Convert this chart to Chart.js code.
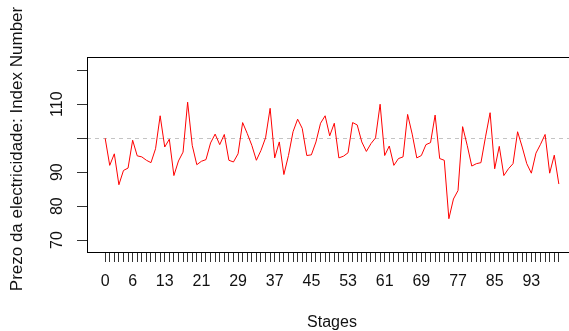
<!DOCTYPE html>
<html>
<head>
<meta charset="utf-8">
<script src="https://cdn.jsdelivr.net/npm/chart.js@4.4.1/dist/chart.umd.min.js"></script>
<style>
    html, body { margin: 0; padding: 0; background: #fff; overflow: hidden; }
    #wrap { width: 569px; height: 331px; overflow: hidden; }
</style>
</head>
<body>
<div id="wrap"><canvas id="grafico" width="580" height="331"></canvas></div>
<script>
// valores (índice do preço por etapa)
const precos = [
    100.0, 92.0, 95.4, 86.3, 90.5, 91.2, 99.4, 94.8, 94.5, 93.5,
    92.8, 96.9, 106.6, 97.4, 99.7, 89.0, 93.3, 95.9, 110.6, 97.9,
    92.2, 93.2, 93.7, 98.6, 101.2, 98.1, 101.1, 93.5, 93.0, 95.4,
    104.6, 101.4, 97.9, 93.5, 96.4, 100.1, 108.8, 94.2, 98.9, 89.3,
    94.9, 101.9, 105.6, 102.9, 94.9, 95.1, 98.9, 104.4, 106.6, 100.7,
    104.4, 94.2, 94.7, 95.7, 104.6, 103.9, 98.9, 96.1, 98.4, 100.1,
    110.0, 94.9, 97.7, 92.0, 94.0, 94.5, 107.0, 101.2, 94.2, 94.9,
    98.1, 98.7, 106.8, 94.0, 93.5, 76.3, 82.1, 84.6, 103.4, 97.9,
    91.8, 92.5, 92.8, 100.4, 107.5, 91.0, 97.6, 89.0, 91.0, 92.5,
    101.9, 97.4, 92.5, 89.7, 95.6, 98.2, 101.1, 89.7, 95.0, 86.5
];
const etapas = precos.map((p, i) => i);
const etiquetasX = [0, 6, 13, 21, 29, 37, 45, 53, 61, 69, 77, 85, 93];
const ticksY = [70, 80, 90, 100, 110, 120];
const etiquetasY = [70, 80, 90, 110];
const linhaRef = 100;
const tituloY = 'Prezo da electricidade: Index Number';

const fonte = 'Arial, "Liberation Sans", sans-serif';

// caixa do gráfico, linha tracejada, etiquetas verticais e título do eixo y
const extras = {
    id: 'extras',
    beforeDatasetsDraw(chart) {
        const { ctx, chartArea: a, scales } = chart;
        const y = Math.round(scales.y.getPixelForValue(linhaRef)) + 0.5;
        ctx.save();
        ctx.strokeStyle = '#c4c4c4';
        ctx.lineWidth = 1;
        ctx.setLineDash([4, 4]);
        ctx.beginPath();
        ctx.moveTo(a.left, y);
        ctx.lineTo(a.right, y);
        ctx.stroke();
        ctx.restore();
    },
    afterDraw(chart) {
        const { ctx, chartArea: a, scales } = chart;
        ctx.save();
        ctx.strokeStyle = '#000';
        ctx.lineWidth = 1;
        ctx.strokeRect(a.left + 0.5, a.top + 0.5, a.right - a.left, a.bottom - a.top);
        ctx.fillStyle = '#111';
        ctx.font = '16px ' + fonte;
        ctx.textAlign = 'center';
        ctx.textBaseline = 'middle';
        etiquetasY.forEach(v => {
            const py = scales.y.getPixelForValue(v);
            ctx.save();
            ctx.translate(58, py);
            ctx.rotate(-Math.PI / 2);
            ctx.fillText(String(v), 0, 0);
            ctx.restore();
        });
        // título do eixo y
        ctx.font = '17px ' + fonte;
        ctx.translate(17, 149);
        ctx.rotate(-Math.PI / 2);
        ctx.fillText(tituloY, 0, 0);
        ctx.restore();
    }
};

new Chart(document.getElementById('grafico'), {
    type: 'line',
    data: {
        datasets: [{
            data: precos.map((p, i) => ({ x: etapas[i], y: p })),
            borderColor: '#ff0000',
            borderWidth: 1,
            pointRadius: 0,
            tension: 0,
            fill: false
        }]
    },
    options: {
        responsive: false,
        animation: false,
        events: [],
        layout: { padding: { top: 57, right: 3, left: 0, bottom: 0 } },
        plugins: { legend: { display: false }, tooltip: { enabled: false } },
        scales: {
            x: {
                type: 'linear',
                min: -3.96,
                max: 102.96,
                afterBuildTicks: s => { s.ticks = etapas.map(v => ({ value: v })); },
                afterFit: s => { s.height = 79; },
                grid: { drawOnChartArea: false, tickLength: 10, color: '#333' },
                border: { display: false },
                ticks: {
                    autoSkip: false,
                    maxRotation: 0,
                    minRotation: 0,
                    padding: 10,
                    color: '#111',
                    font: { family: fonte, size: 16 },
                    callback: v => etiquetasX.includes(v) ? String(v) : ''
                },
                title: {
                    display: true,
                    text: 'Stages',
                    color: '#111',
                    font: { family: fonte, size: 16, lineHeight: 1.1 },
                    padding: { top: 0, bottom: 0 }
                }
            },
            y: {
                min: 66.5,
                max: 123.9,
                afterBuildTicks: s => { s.ticks = ticksY.map(v => ({ value: v })); },
                afterFit: s => { s.width = 87; },
                grid: { drawOnChartArea: false, tickLength: 10, color: '#333' },
                border: { display: false },
                ticks: { callback: () => '', padding: 0 }
            }
        }
    },
    plugins: [extras]
});
</script>
</body>
</html>
